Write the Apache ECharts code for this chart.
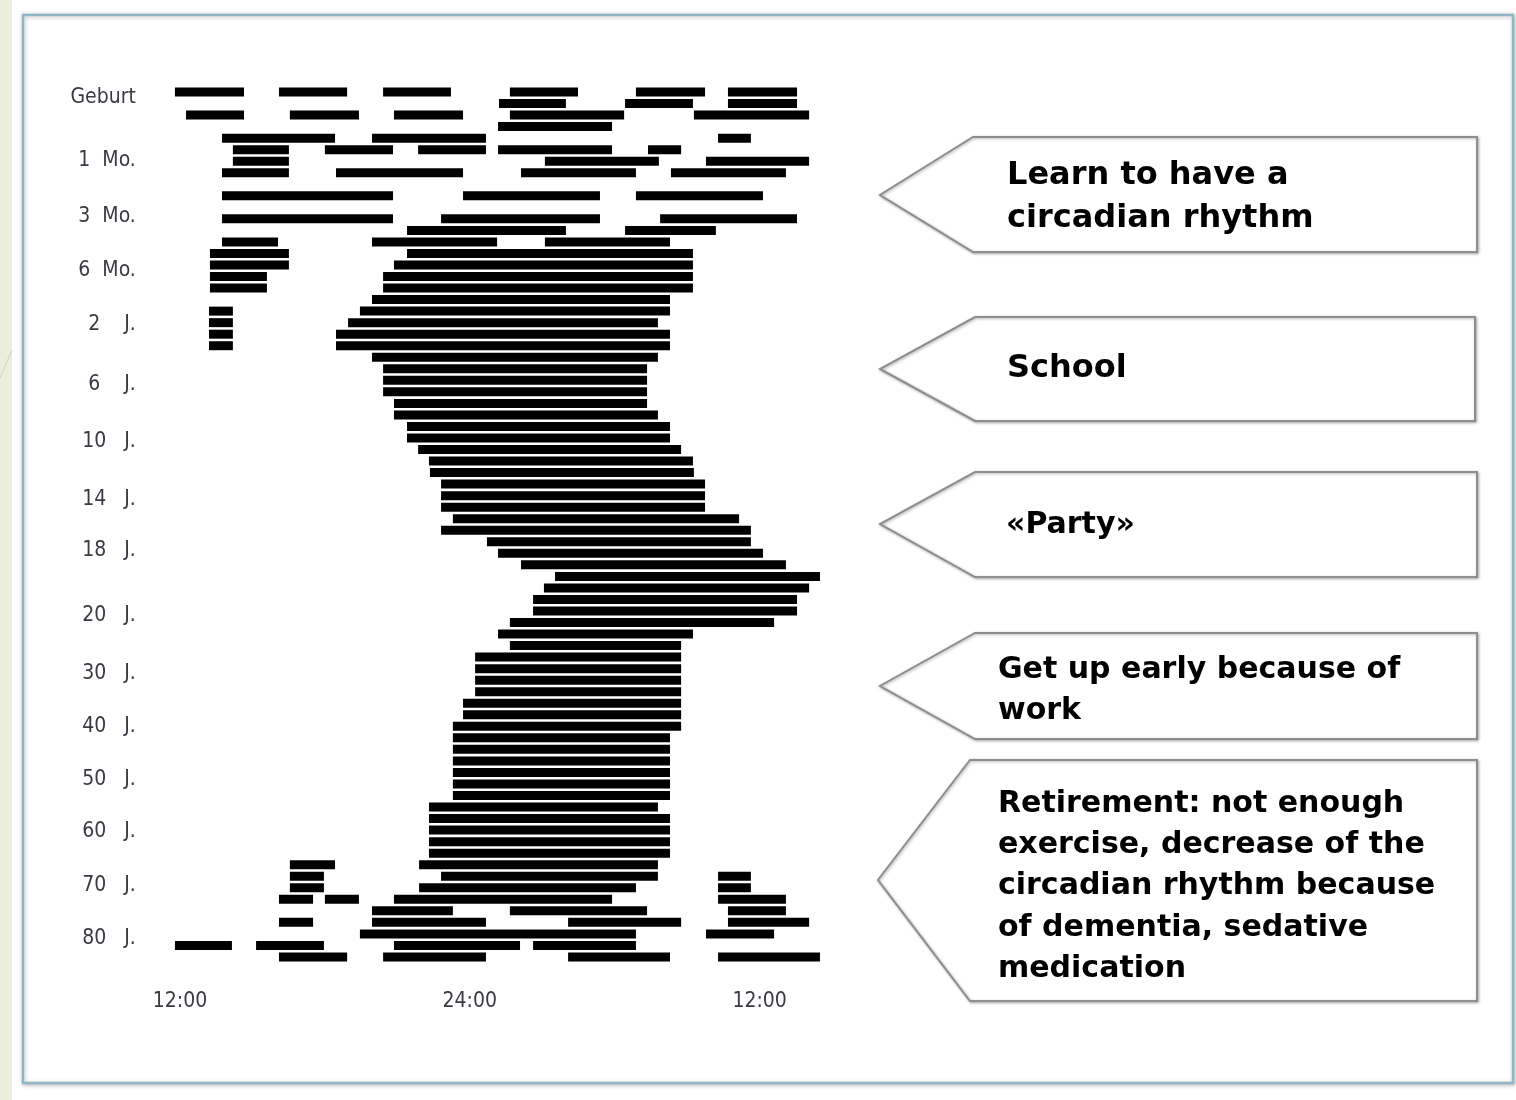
<!DOCTYPE html>
<html>
<head>
<meta charset="utf-8">
<script src="https://cdn.jsdelivr.net/npm/echarts@6/dist/echarts.min.js"></script>
<style>
html,body{margin:0;padding:0;background:#fff;}
#chart{width:1516px;height:1100px;}
</style>
</head>
<body>
<div id="chart"></div>
<script>
// Age labels (y axis) and the row position at which each label sits
const ageLabels = ['Geburt','1  Mo.','3  Mo.','6  Mo.','2    J.','6    J.','10   J.','14   J.','18   J.','20   J.','30   J.','40   J.','50   J.','60   J.','70   J.','80   J.'];
const ageLabelRows = [0.52, 5.98, 10.84, 15.44, 20.2, 25.4, 30.3, 35.3, 39.8, 45.4, 50.4, 55.0, 59.6, 64.1, 68.8, 73.4];

// Time axis ticks (hours from noon of day 1: 12 = noon, 24 = midnight, 36 = noon next day)
const timeTicks = [12, 24, 36];
const timeTickLabels = ['12:00', '24:00', '12:00'];

// Sleep episodes per row: [start hour, end hour]
const sleepRows = [
  [[11.79,14.65],[16.10,18.92],[20.41,23.22],[25.66,28.48],[30.88,33.74],[34.69,37.55]],
  [[25.21,27.98],[30.43,33.24],[34.69,37.55]],
  [[12.25,14.65],[16.55,19.41],[20.86,23.72],[25.66,30.39],[33.28,38.05]],
  [[25.17,29.89]],
  [[13.74,18.42],[19.95,24.67],[34.28,35.64]],
  [[14.19,16.51],[18.00,20.82],[21.86,24.67],[25.17,29.89],[31.38,32.75]],
  [[14.19,16.51],[27.11,31.83],[33.78,38.05]],
  [[13.74,16.51],[18.46,23.72],[26.12,30.88],[32.33,37.09]],
  [],
  [[13.74,20.82],[23.72,29.39],[30.88,36.14]],
  [],
  [[13.74,20.82],[22.81,29.39],[31.88,37.55]],
  [[21.40,27.98],[30.43,34.19]],
  [[13.74,16.06],[19.95,25.13],[27.11,32.29]],
  [[13.24,16.51],[21.40,33.24]],
  [[13.24,16.51],[20.86,33.24]],
  [[13.24,15.60],[20.41,33.24]],
  [[13.24,15.60],[20.41,33.24]],
  [[19.95,32.29]],
  [[13.20,14.19],[19.45,32.29]],
  [[13.20,14.19],[18.96,31.79]],
  [[13.20,14.19],[18.46,32.29]],
  [[13.20,14.19],[18.46,32.29]],
  [[19.95,31.79]],
  [[20.41,31.34]],
  [[20.41,31.34]],
  [[20.41,31.34]],
  [[20.86,31.34]],
  [[20.86,31.79]],
  [[21.40,32.29]],
  [[21.40,32.29]],
  [[21.86,32.75]],
  [[22.31,33.24]],
  [[22.35,33.28]],
  [[22.81,33.74]],
  [[22.81,33.74]],
  [[22.81,33.74]],
  [[23.30,35.15]],
  [[22.81,35.64]],
  [[24.71,35.64]],
  [[25.17,36.14]],
  [[26.12,37.09]],
  [[27.53,38.50]],
  [[27.07,38.05]],
  [[26.62,37.55]],
  [[26.62,37.55]],
  [[25.66,36.60]],
  [[25.17,33.24]],
  [[25.66,32.75]],
  [[24.22,32.75]],
  [[24.22,32.75]],
  [[24.22,32.75]],
  [[24.22,32.75]],
  [[23.72,32.75]],
  [[23.72,32.75]],
  [[23.30,32.75]],
  [[23.30,32.29]],
  [[23.30,32.29]],
  [[23.30,32.29]],
  [[23.30,32.29]],
  [[23.30,32.29]],
  [[23.30,32.29]],
  [[22.31,31.79]],
  [[22.31,32.29]],
  [[22.31,32.29]],
  [[22.31,32.29]],
  [[22.31,32.29]],
  [[16.55,18.42],[21.90,31.79]],
  [[16.55,17.96],[22.81,31.79],[34.28,35.64]],
  [[16.55,17.96],[21.90,30.88],[34.28,35.64]],
  [[16.10,17.51],[18.00,19.41],[20.86,29.89],[34.28,37.09]],
  [[19.95,23.30],[25.66,31.34],[34.69,37.09]],
  [[16.10,17.51],[19.95,24.67],[28.07,32.75],[34.69,38.05]],
  [[19.45,30.88],[33.78,36.60]],
  [[11.79,14.15],[15.15,17.96],[20.86,26.08],[26.62,30.88]],
  [[16.10,18.92],[20.41,24.67],[28.07,32.29],[34.28,38.50]]
];

// Callout texts
const calloutTexts = [
  'Learn to have a\ncircadian rhythm',
  'School',
  '\u00abParty\u00bb',
  'Get up early because of\nwork',
  'Retirement: not enough\nexercise, decrease of the\ncircadian rhythm because\nof dementia, sedative\nmedication'
];

// build the series data from the rows
const segData = [];
sleepRows.forEach((row, r) => {
  row.forEach(seg => segData.push([seg[0], seg[1], r]));
});

const rowCount = sleepRows.length;

// callout geometry (layout only)
const callouts = [
  {tip:[880,195], top:137, bottom:252, cx:973, rx:1477, tx:1007, ty:197.5, fs:32, lh:43},
  {tip:[880,369], top:317, bottom:421, cx:975, rx:1475, tx:1007, ty:369, fs:32, lh:43},
  {tip:[880,524], top:472, bottom:577, cx:975, rx:1477, tx:1006, ty:525.5, fs:30, lh:43},
  {tip:[880,686], top:633, bottom:739, cx:975, rx:1477, tx:998, ty:690.5, fs:30, lh:41},
  {tip:[878,880], top:760, bottom:1001, cx:970, rx:1477, tx:998, ty:886.5, fs:30, lh:41.25}
];

const graphics = [
  {type:'rect', z:-5, shape:{x:0,y:0,width:12,height:1100}, style:{fill:'#eceedb'}},
  {type:'line', z:-4, shape:{x1:0,y1:378,x2:12,y2:350}, style:{stroke:'#cfd2bb',lineWidth:1}},
  {type:'rect', z:-3, shape:{x:23,y:15,width:1490,height:1068},
   style:{fill:'#fff', stroke:'#8fb6c9', lineWidth:2.5, shadowBlur:4, shadowColor:'rgba(0,0,0,0.25)', shadowOffsetX:1, shadowOffsetY:1}}
];
callouts.forEach((c, i) => {
  graphics.push({
    type:'polygon', z:1,
    shape:{points:[[c.rx,c.top],[c.cx,c.top],c.tip,[c.cx,c.bottom],[c.rx,c.bottom],[c.rx,c.top]]},
    style:{fill:'#fff', stroke:'#8e8e8e', lineWidth:2, shadowBlur:3, shadowColor:'rgba(0,0,0,0.3)', shadowOffsetX:1, shadowOffsetY:1}
  });
  graphics.push({
    type:'text', z:2,
    x:c.tx, y:c.ty,
    style:{text:calloutTexts[i], fill:'#000', font:'bold '+c.fs+'px "DejaVu Sans"', lineHeight:c.lh, verticalAlign:'middle', align:'left'}
  });
});

const labelFont = '"DejaVu Sans Condensed", Roboto, sans-serif';

const chart = echarts.init(document.getElementById('chart'), null, {renderer:'canvas'});
chart.setOption({
  backgroundColor:'#ffffff',
  animation:false,
  graphic: graphics,
  grid:{left:155.85, top:86.23, width:676.2, height:876.5, containLabel:false},
  xAxis:{
    type:'value', min:11, max:39,
    axisLine:{show:false}, axisTick:{show:false}, splitLine:{show:false},
    axisLabel:{
      customValues: timeTicks,
      formatter: v => timeTickLabels[timeTicks.indexOf(v)],
      margin: 39, verticalAlign:'middle',
      color:'#3a3a44', fontFamily: labelFont, fontSize:21
    }
  },
  yAxis:{
    type:'value', inverse:true, min:-0.5, max:rowCount-0.5,
    axisLine:{show:false}, axisTick:{show:false}, splitLine:{show:false},
    axisLabel:{
      customValues: ageLabelRows,
      formatter: v => ageLabels[ageLabelRows.indexOf(v)],
      margin: 20, verticalAlign:'middle', align:'right',
      color:'#3a3a44', fontFamily: labelFont, fontSize:21
    }
  },
  series:[{
    type:'custom',
    data: segData,
    encode:{x:[0,1], y:2},
    renderItem:(params, api) => {
      const r = api.value(2);
      const p0 = api.coord([api.value(0), r]);
      const p1 = api.coord([api.value(1), r]);
      const h = Math.abs(api.size([0,1])[1]) * 0.78;
      return {type:'rect', shape:{x:p0[0], y:p0[1]-h/2, width:p1[0]-p0[0], height:h}, style:{fill:'#000'}};
    }
  }]
});
</script>
</body>
</html>
